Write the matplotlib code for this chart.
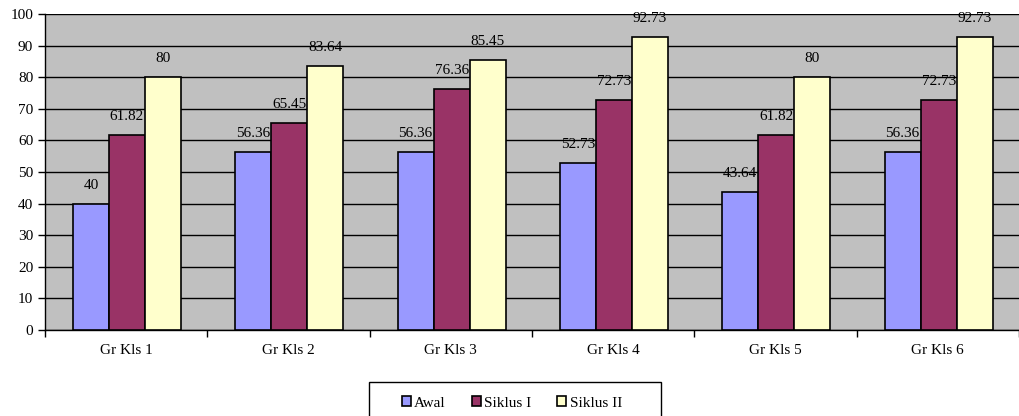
import matplotlib.pyplot as plt
import numpy as np
from matplotlib.patches import Rectangle

plt.rcParams['font.family'] = ['Liberation Serif', 'DejaVu Serif']

groups = ['Gr Kls 1', 'Gr Kls 2', 'Gr Kls 3', 'Gr Kls 4', 'Gr Kls 5', 'Gr Kls 6']
awal = [40, 56.36, 56.36, 52.73, 43.64, 56.36]
siklus1 = [61.82, 65.45, 76.36, 72.73, 61.82, 72.73]
siklus2 = [80, 83.64, 85.45, 92.73, 80, 92.73]
series_names = ['Awal', 'Siklus I', 'Siklus II']
colors = ['#9999FF', '#993366', '#FFFFCC']

fig = plt.figure(figsize=(10.2, 4.16), dpi=100)
ax = fig.add_axes([45 / 1020, 1 - 330 / 416, 974 / 1020, 316 / 416])
ax.set_facecolor('#C0C0C0')

x = np.arange(len(groups))
w = 1 / 4.5
for i, (vals, name, c) in enumerate(zip([awal, siklus1, siklus2], series_names, colors)):
    pos = x + (i - 1) * w + 0.005
    ax.bar(pos, vals, width=w, color=c, edgecolor='black', linewidth=1.2,
           label=name, zorder=3)
    for p, v in zip(pos, vals):
        ax.text(p, v + 3.8, f'{v:g}', ha='center', va='bottom', fontsize=11)

ax.set_xlim(-0.5, len(groups) - 0.5)
ax.set_ylim(0, 100)
ax.set_yticks(range(0, 101, 10))
ax.yaxis.grid(True, color='black', linewidth=1)
ax.set_axisbelow(True)
ax.set_xticks(x)
ax.set_xticklabels(groups, fontsize=11)
ax.set_xticks(np.arange(-0.5, len(groups)), minor=True)
ax.tick_params(axis='x', which='major', length=0, pad=10)
ax.tick_params(axis='x', which='minor', length=5, direction='out', width=1)
ax.tick_params(axis='y', length=5, direction='out', labelsize=11, width=1)
for s in ['top', 'right']:
    ax.spines[s].set_visible(False)
ax.spines['left'].set_linewidth(1)
ax.spines['bottom'].set_linewidth(1)

# legend box below the axes
box = Rectangle((369 / 1020, 1 - 430 / 416), 292 / 1020, 48 / 416,
                transform=fig.transFigure, facecolor='white',
                edgecolor='black', linewidth=1)
fig.patches.append(box)
handles, labels = ax.get_legend_handles_labels()
fig.legend(handles, labels, ncol=3, loc='center', frameon=False,
           bbox_to_anchor=(512 / 1020, 1 - 403 / 416), fontsize=11,
           handlelength=0.6, handleheight=0.6, handletextpad=0.2,
           columnspacing=1.7)

fig.savefig('out.png', dpi=100)
